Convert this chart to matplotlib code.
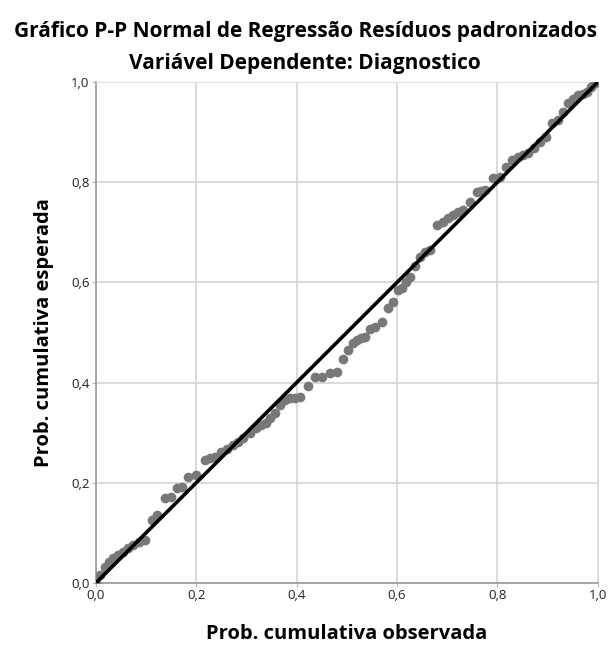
import matplotlib.pyplot as plt

obs = [0.0, 0.008, 0.018, 0.026, 0.034, 0.044, 0.054, 0.064, 0.074, 0.086, 0.098,
       0.112, 0.122, 0.137, 0.149, 0.161, 0.172, 0.183, 0.2, 0.217, 0.227, 0.237,
       0.25, 0.262, 0.273, 0.283, 0.293, 0.307, 0.32, 0.33, 0.34, 0.348, 0.357,
       0.367, 0.377, 0.386, 0.396, 0.406, 0.422, 0.436, 0.45, 0.466, 0.48, 0.492,
       0.502, 0.512, 0.52, 0.528, 0.536, 0.546, 0.556, 0.57, 0.582, 0.592, 0.602,
       0.61, 0.618, 0.625, 0.635, 0.645, 0.655, 0.665, 0.68, 0.691, 0.701, 0.711,
       0.721, 0.731, 0.745, 0.759, 0.767, 0.775, 0.791, 0.805, 0.817, 0.829, 0.841,
       0.851, 0.861, 0.872, 0.884, 0.896, 0.908, 0.92, 0.93, 0.94, 0.95, 0.96,
       0.97, 0.978, 0.986, 0.994]
exp = [0.0, 0.016, 0.032, 0.042, 0.05, 0.056, 0.062, 0.07, 0.076, 0.082, 0.086,
       0.126, 0.136, 0.17, 0.172, 0.19, 0.192, 0.212, 0.216, 0.246, 0.25, 0.252,
       0.262, 0.268, 0.275, 0.282, 0.29, 0.3, 0.31, 0.315, 0.32, 0.33, 0.34,
       0.355, 0.365, 0.369, 0.37, 0.371, 0.393, 0.411, 0.412, 0.419, 0.421, 0.447,
       0.465, 0.48, 0.485, 0.489, 0.491, 0.508, 0.511, 0.521, 0.549, 0.561, 0.585,
       0.589, 0.6, 0.611, 0.632, 0.651, 0.66, 0.665, 0.715, 0.72, 0.728, 0.735,
       0.74, 0.745, 0.76, 0.78, 0.782, 0.784, 0.808, 0.81, 0.83, 0.844, 0.85,
       0.854, 0.858, 0.868, 0.88, 0.89, 0.918, 0.924, 0.94, 0.958, 0.966, 0.974,
       0.977, 0.98, 0.99, 0.998]
ticks = [0.0, 0.2, 0.4, 0.6, 0.8, 1.0]
tick_labels = ['0,0', '0,2', '0,4', '0,6', '0,8', '1,0']

plt.rcParams['font.family'] = ['Open Sans', 'DejaVu Sans']

fig = plt.figure(figsize=(6.1, 6.46), dpi=100)
ax = fig.add_axes([0.157, 0.0975, 0.823, 0.7755])

ax.plot(obs, exp, 'o', color='#787878', markersize=7, markeredgewidth=0, zorder=3)
ax.plot([0, 1], [0, 1], color='black', linewidth=2.6, zorder=4)

ax.set_xlim(0, 1)
ax.set_ylim(0, 1)
ax.set_xticks(ticks)
ax.set_yticks(ticks)
ax.set_xticklabels(tick_labels)
ax.set_yticklabels(tick_labels)
ax.tick_params(labelsize=9.5, length=3, color='#bbbbbb', colors='#222222', pad=1.5)
ax.grid(True, color='#d4d4d4', linewidth=1.2, zorder=0)

for s in ['left', 'bottom']:
    ax.spines[s].set_color('#999999')
    ax.spines[s].set_linewidth(1.2)
for s in ['top', 'right']:
    ax.spines[s].set_color('#e0e0e0')

ax.set_xlabel('Prob. cumulativa observada', fontsize=14.5, fontweight='bold', labelpad=16)
ax.set_ylabel('Prob. cumulativa esperada', fontsize=14.5, fontweight='bold', labelpad=12)

fig.text(0.5, 0.951, 'Gráfico P-P Normal de Regressão Resíduos padronizados',
         ha='center', va='center', fontsize=15, fontweight='bold')
fig.text(0.5, 0.901, 'Variável Dependente: Diagnostico',
         ha='center', va='center', fontsize=15, fontweight='bold')

fig.savefig('out.png', dpi=100)
